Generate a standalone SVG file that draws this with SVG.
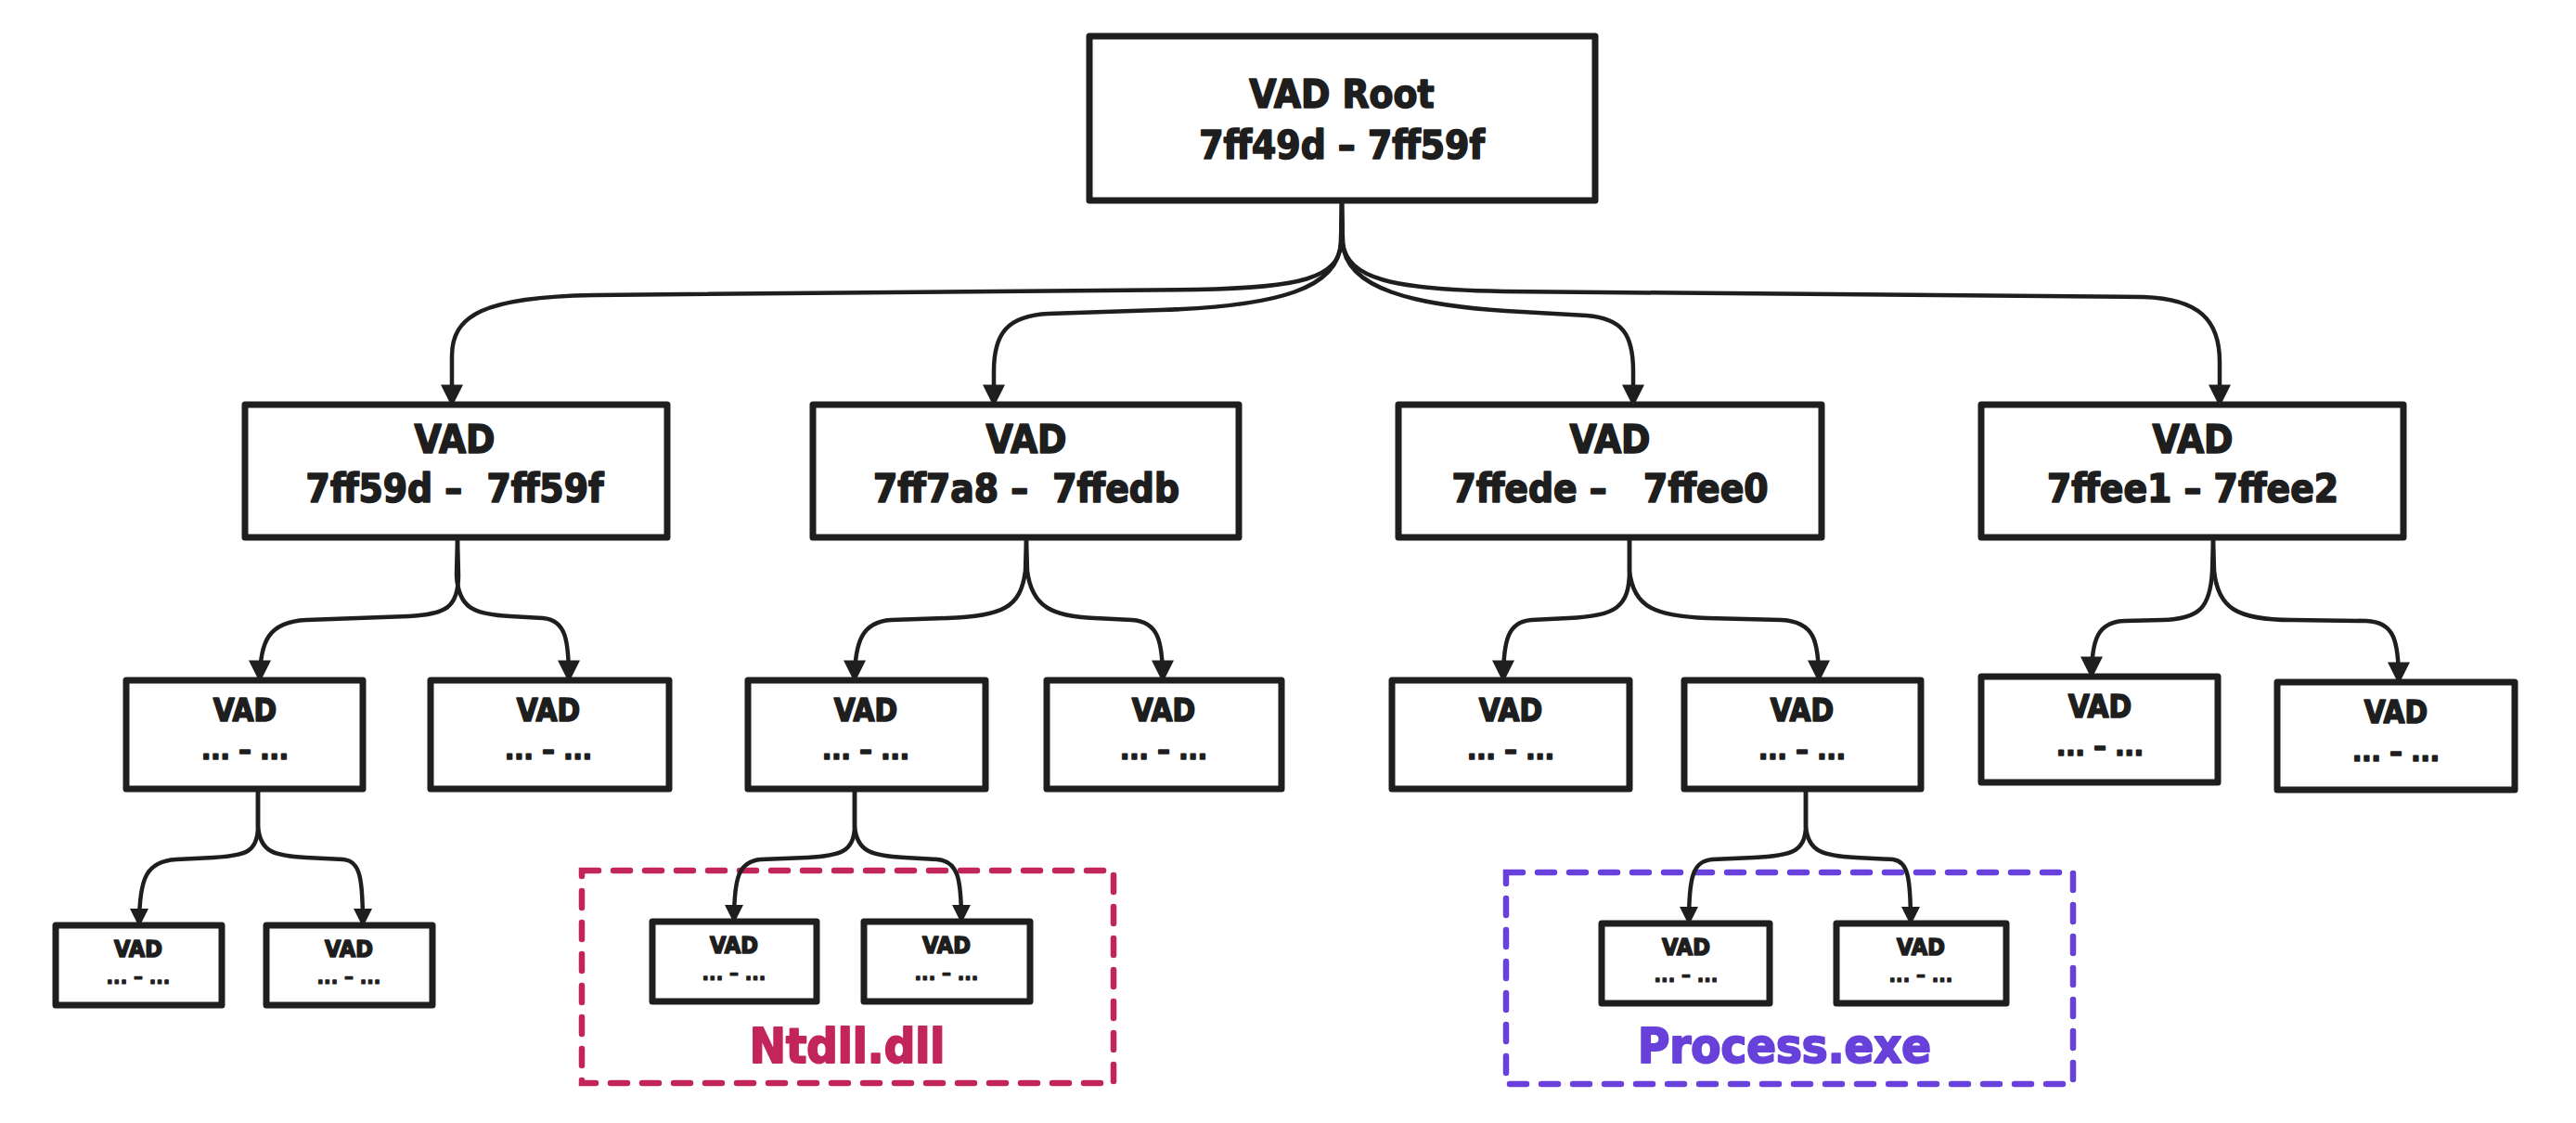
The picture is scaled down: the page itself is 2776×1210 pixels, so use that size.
<svg xmlns="http://www.w3.org/2000/svg" width="2776" height="1210" viewBox="0 0 2776 1210">
<defs>
<style>
.box{fill:#ffffff;stroke:#1e1e1e;stroke-width:7;stroke-linejoin:round}
.con{fill:none;stroke:#1e1e1e;stroke-width:4.5;stroke-linecap:round}
.t{font-family:"DejaVu Sans Condensed","DejaVu Sans",sans-serif;font-weight:bold;fill:#1e1e1e;stroke:#1e1e1e;stroke-width:1.6;stroke-linejoin:round;text-anchor:middle}
.t1{font-size:42px}
.t2{font-size:33px}
.t2d{font-size:30px}
.t3{font-size:25px}
.t3d{font-size:22px;stroke-width:1.2}
.grp{fill:none;stroke-width:6.5;stroke-dasharray:18 16;stroke-linecap:round}
.lbl{font-family:"DejaVu Sans Condensed","DejaVu Sans",sans-serif;font-weight:bold;font-size:52px;stroke-width:2;stroke-linejoin:round;text-anchor:middle}
</style>
<marker id="ah" viewBox="0 0 10 10" refX="9" refY="5" markerUnits="userSpaceOnUse" markerWidth="28" markerHeight="24" orient="auto"><path d="M0,0 L10,5 L0,10 z" fill="#1e1e1e"/></marker>
<marker id="ahs" viewBox="0 0 10 10" refX="9" refY="5" markerUnits="userSpaceOnUse" markerWidth="24" markerHeight="20" orient="auto"><path d="M0,0 L10,5 L0,10 z" fill="#1e1e1e"/></marker>
</defs>
<rect width="2776" height="1210" fill="#ffffff"/>

<g id="group-ntdll">
<rect class="grp" x="627" y="938" width="573" height="229" stroke="#c2255c"/>
<text class="lbl" x="913" y="1145" fill="#c2255c" stroke="#c2255c">Ntdll.dll</text>
</g>
<g id="group-process">
<rect class="grp" x="1623" y="940" width="611" height="228" stroke="#6741d9"/>
<text class="lbl" x="1923" y="1145" fill="#6741d9" stroke="#6741d9">Process.exe</text>
</g>

<g id="connectors">
<path class="con" marker-end="url(#ah)" d="M1446 216 L1445 262 C1443 300 1400 310 1290 312 L640 318 C520 320 487 340 487 384 L487 436"/>
<path class="con" marker-end="url(#ah)" d="M1446 216 L1445 262 C1442 310 1380 330 1250 334 L1130 338 C1085 340 1071 360 1071 400 L1071 436"/>
<path class="con" marker-end="url(#ah)" d="M1446 216 L1447 262 C1450 310 1520 330 1640 336 L1710 340 C1748 343 1760 360 1760 400 L1760 436"/>
<path class="con" marker-end="url(#ah)" d="M1446 216 L1447 262 C1452 300 1500 312 1620 314 L2310 320 C2370 322 2392 345 2392 390 L2392 436"/>

<path class="con" marker-end="url(#ah)" d="M493 579 L494 620 C494 655 480 662 440 664 L330 668 C290 670 280 690 280 733"/>
<path class="con" marker-end="url(#ah)" d="M493 579 L492 620 C494 655 510 662 550 664 L585 666 C610 668 613 690 613 733"/>
<path class="con" marker-end="url(#ah)" d="M1106 579 L1105 615 C1100 655 1080 664 1020 666 L960 668 C930 670 921 690 921 733"/>
<path class="con" marker-end="url(#ah)" d="M1106 579 L1107 615 C1112 655 1135 664 1180 666 L1220 668 C1248 670 1253 690 1253 733"/>
<path class="con" marker-end="url(#ah)" d="M1756 579 L1756 615 C1756 655 1740 664 1690 666 L1650 668 C1625 670 1620 690 1620 733"/>
<path class="con" marker-end="url(#ah)" d="M1756 579 L1756 615 C1760 655 1785 664 1840 666 L1920 668 C1955 670 1960 690 1960 733"/>
<path class="con" marker-end="url(#ah)" d="M2385 579 L2384 615 C2382 655 2370 667 2330 668 L2290 669 C2260 670 2254 690 2254 729"/>
<path class="con" marker-end="url(#ah)" d="M2385 579 L2386 615 C2390 655 2410 668 2470 668 L2550 669 C2580 670 2585 690 2585 735"/>

<path class="con" marker-end="url(#ahs)" d="M278 850 L278 890 C278 918 265 922 230 924 L190 926 C158 928 150 945 150 997"/>
<path class="con" marker-end="url(#ahs)" d="M278 850 L278 890 C280 918 295 922 330 924 L370 926 C388 928 391 945 391 997"/>
<path class="con" marker-end="url(#ahs)" d="M921 850 L921 890 C921 918 905 922 870 924 L820 926 C796 928 791 945 791 993"/>
<path class="con" marker-end="url(#ahs)" d="M921 850 L921 890 C923 918 940 922 975 924 L1010 926 C1032 928 1036 945 1036 993"/>
<path class="con" marker-end="url(#ahs)" d="M1946 850 L1946 890 C1946 918 1930 922 1890 924 L1845 926 C1824 928 1820 945 1820 995"/>
<path class="con" marker-end="url(#ahs)" d="M1946 850 L1946 890 C1948 918 1965 922 2000 924 L2040 926 C2056 928 2059 945 2059 995"/>
</g>

<g id="vad-root">
<rect class="box" x="1174" y="39" width="545" height="177"/>
<text class="t t1" x="1446" y="116">VAD Root</text>
<text class="t t1" x="1446" y="171">7ff49d – 7ff59f</text>
</g>

<g id="vad-a">
<rect class="box" x="264" y="436" width="455" height="143"/>
<text class="t t1" x="490" y="488">VAD</text>
<text class="t t1" x="490" y="541" xml:space="preserve">7ff59d –  7ff59f</text>
</g>
<g id="vad-b">
<rect class="box" x="876" y="436" width="459" height="143"/>
<text class="t t1" x="1106" y="488">VAD</text>
<text class="t t1" x="1106" y="541" xml:space="preserve">7ff7a8 –  7ffedb</text>
</g>
<g id="vad-c">
<rect class="box" x="1507" y="436" width="456" height="143"/>
<text class="t t1" x="1735" y="488">VAD</text>
<text class="t t1" x="1735" y="541" xml:space="preserve">7ffede –   7ffee0</text>
</g>
<g id="vad-d">
<rect class="box" x="2135" y="436" width="455" height="143"/>
<text class="t t1" x="2363" y="488">VAD</text>
<text class="t t1" x="2363" y="541">7ffee1 – 7ffee2</text>
</g>

<g id="vad-a1">
<rect class="box" x="136" y="733" width="255" height="117"/>
<text class="t t2" x="264" y="777">VAD</text>
<text class="t t2d" x="264" y="818">... – ...</text>
</g>
<g id="vad-a2">
<rect class="box" x="464" y="733" width="257" height="117"/>
<text class="t t2" x="591" y="777">VAD</text>
<text class="t t2d" x="591" y="818">... – ...</text>
</g>
<g id="vad-b1">
<rect class="box" x="806" y="733" width="256" height="117"/>
<text class="t t2" x="933" y="777">VAD</text>
<text class="t t2d" x="933" y="818">... – ...</text>
</g>
<g id="vad-b2">
<rect class="box" x="1128" y="733" width="253" height="117"/>
<text class="t t2" x="1254" y="777">VAD</text>
<text class="t t2d" x="1254" y="818">... – ...</text>
</g>
<g id="vad-c1">
<rect class="box" x="1500" y="733" width="256" height="117"/>
<text class="t t2" x="1628" y="777">VAD</text>
<text class="t t2d" x="1628" y="818">... – ...</text>
</g>
<g id="vad-c2">
<rect class="box" x="1815" y="733" width="255" height="117"/>
<text class="t t2" x="1942" y="777">VAD</text>
<text class="t t2d" x="1942" y="818">... – ...</text>
</g>
<g id="vad-d1">
<rect class="box" x="2135" y="729" width="255" height="114"/>
<text class="t t2" x="2263" y="773">VAD</text>
<text class="t t2d" x="2263" y="814">... – ...</text>
</g>
<g id="vad-d2">
<rect class="box" x="2454" y="735" width="256" height="116"/>
<text class="t t2" x="2582" y="779">VAD</text>
<text class="t t2d" x="2582" y="820">... – ...</text>
</g>

<g id="vad-a1a">
<rect class="box" x="60" y="997" width="179" height="86"/>
<text class="t t3" x="149" y="1031">VAD</text>
<text class="t t3d" x="149" y="1060">... – ...</text>
</g>
<g id="vad-a1b">
<rect class="box" x="287" y="997" width="179" height="86"/>
<text class="t t3" x="376" y="1031">VAD</text>
<text class="t t3d" x="376" y="1060">... – ...</text>
</g>
<g id="vad-b1a">
<rect class="box" x="703" y="993" width="177" height="86"/>
<text class="t t3" x="791" y="1027">VAD</text>
<text class="t t3d" x="791" y="1056">... – ...</text>
</g>
<g id="vad-b1b">
<rect class="box" x="931" y="993" width="179" height="86"/>
<text class="t t3" x="1020" y="1027">VAD</text>
<text class="t t3d" x="1020" y="1056">... – ...</text>
</g>
<g id="vad-c2a">
<rect class="box" x="1726" y="995" width="181" height="86"/>
<text class="t t3" x="1817" y="1029">VAD</text>
<text class="t t3d" x="1817" y="1058">... – ...</text>
</g>
<g id="vad-c2b">
<rect class="box" x="1979" y="995" width="183" height="86"/>
<text class="t t3" x="2070" y="1029">VAD</text>
<text class="t t3d" x="2070" y="1058">... – ...</text>
</g>
</svg>
